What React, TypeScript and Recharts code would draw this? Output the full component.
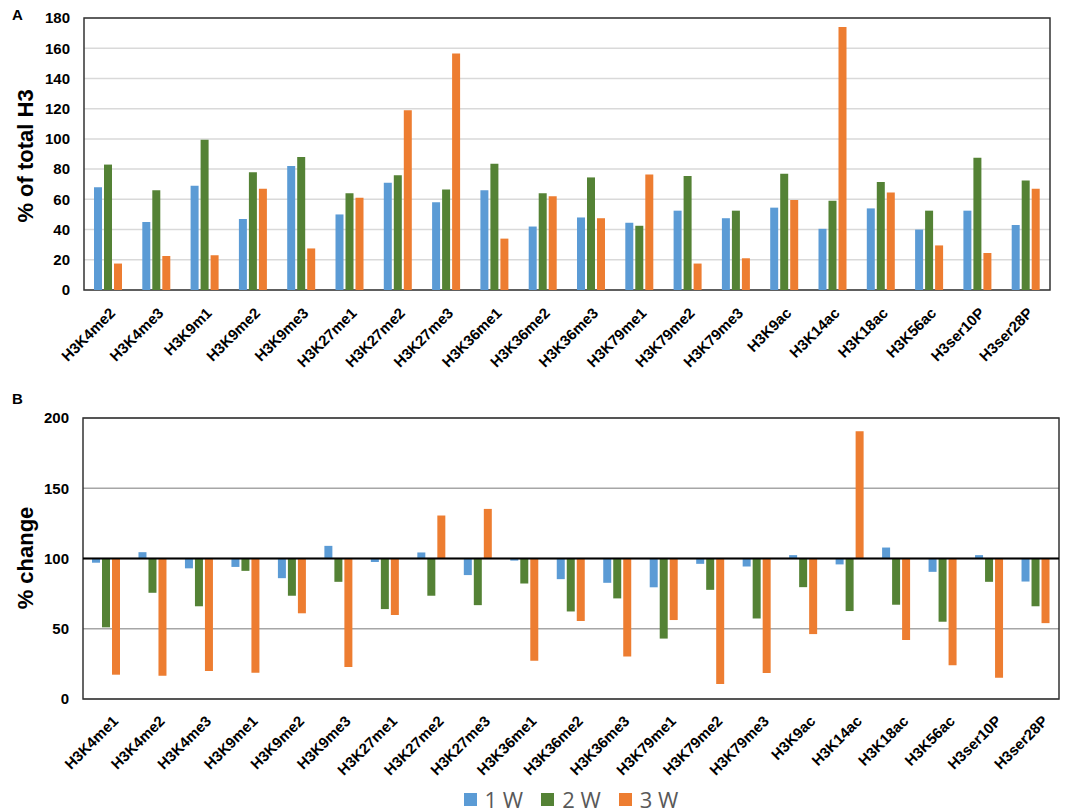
import React from 'react';
import { BarChart, Bar, XAxis, YAxis, CartesianGrid, ReferenceArea, ReferenceLine, Legend } from 'recharts';

// Panel A: % of total H3
const catsA = ['H3K4me2', 'H3K4me3', 'H3K9m1', 'H3K9me2', 'H3K9me3', 'H3K27me1', 'H3K27me2', 'H3K27me3', 'H3K36me1', 'H3K36me2',
  'H3K36me3', 'H3K79me1', 'H3K79me2', 'H3K79me3', 'H3K9ac', 'H3K14ac', 'H3K18ac', 'H3K56ac', 'H3ser10P', 'H3ser28P'];
const w1A = [68, 45, 69, 47, 82, 50, 71, 58, 66, 42, 48, 44.5, 52.5, 47.5, 54.5, 40.5, 54, 40, 52.5, 43];
const w2A = [83, 66, 99.5, 78, 88, 64, 76, 66.5, 83.5, 64, 74.5, 42.5, 75.5, 52.5, 77, 59, 71.5, 52.5, 87.5, 72.5];
const w3A = [17.5, 22.5, 23, 67, 27.5, 61, 119, 156.5, 34, 62, 47.5, 76.5, 17.5, 21, 59.5, 174, 64.5, 29.5, 24.5, 67];
const ticksA = [0, 20, 40, 60, 80, 100, 120, 140, 160, 180];

// Panel B: % change (bars start at 100)
const catsB = ['H3K4me1', 'H3K4me2', 'H3K4me3', 'H3K9me1', 'H3K9me2', 'H3K9me3', 'H3K27me1', 'H3K27me2', 'H3K27me3', 'H3K36me1',
  'H3K36me2', 'H3K36me3', 'H3K79me1', 'H3K79me2', 'H3K79me3', 'H3K9ac', 'H3K14ac', 'H3K18ac', 'H3K56ac', 'H3ser10P', 'H3ser28P'];
const w1B = [97, 104.5, 93, 94, 86, 109, 97.5, 104.3, 88.2, 98.5, 85.3, 82.7, 79.5, 96.2, 94.3, 102.4, 95.8, 107.8, 90.5, 102.4, 83.6];
const w2B = [51, 75.6, 66, 91.2, 73.5, 83.4, 64, 73.5, 66.8, 82.2, 62.3, 71.6, 43, 77.7, 57.3, 79.6, 62.6, 67.1, 55, 83.4, 66];
const w3B = [17.3, 16.6, 20, 18.7, 61, 22.7, 59.8, 130.6, 135.3, 27.3, 55.5, 30.2, 56.2, 10.7, 18.5, 46.2, 190.5, 42, 24, 15.2, 54];
const ticksB = [0, 50, 100, 150, 200];
const baseB = 100;

const seriesNames = ['1 W', '2 W', '3 W'];
const colors = ['#5B9BD5', '#548235', '#ED7D31'];

const dataA = catsA.map((c, i) => ({ name: c, w1: w1A[i], w2: w2A[i], w3: w3A[i] }));
const dataB = catsB.map((c, i) => ({ name: c, w1: w1B[i], w2: w2B[i], w3: w3B[i] }));

const font = '"Liberation Sans", Arial, sans-serif';

// bars in panel B grow up or down from the 100 line
const range = (key: string) => (d: any) => [Math.min(baseB, d[key]), Math.max(baseB, d[key])];

const RotTick = ({ x, y, payload, dx, dy }: any) => (
  <g transform={`translate(${x + dx},${y + dy})`}>
    <g transform="rotate(-45)">
      <text textAnchor="end" fontSize={15} fontWeight="bold" fill="#000" fontFamily={font}>{payload.value}</text>
    </g>
  </g>
);

const LegendBox = () => (
  <div style={{ display: 'flex', justifyContent: 'center', alignItems: 'center', height: 26, fontFamily: '"Open Sans", sans-serif', fontSize: 22, color: '#595959' }}>
    {seriesNames.map((n, i) => (
      <div key={n} style={{ display: 'flex', alignItems: 'center', margin: '0 9px' }}>
        <span style={{ width: 13, height: 13, background: colors[i], display: 'inline-block', marginRight: 8 }} />
        <span>{n}</span>
      </div>
    ))}
  </div>
);

export default function App() {
  return (
    <div style={{ position: 'absolute', left: 0, top: 0, width: 1084, height: 812, background: '#fff', fontFamily: font }}>
      <div style={{ position: 'absolute', left: 12, top: 6, fontWeight: 'bold', fontSize: 15 }}>A</div>
      <div style={{ position: 'absolute', left: 12, top: 390, fontWeight: 'bold', fontSize: 15 }}>B</div>

      <div style={{ position: 'absolute', left: 0, top: 0 }}>
        <BarChart width={1084} height={400} data={dataA} margin={{ top: 18, right: 34, left: 0, bottom: 0 }} barSize={8} barGap={2}>
          <CartesianGrid horizontal vertical={false} stroke="#d9d9d9" strokeWidth={1.5} />
          <XAxis dataKey="name" interval={0} height={110} tickLine={false} axisLine={false}
            tick={(p: any) => <RotTick {...p} dx={8} dy={16} />} />
          <YAxis width={84} domain={[0, 180]} ticks={ticksA} tickLine={false} axisLine={false}
            tick={{ fontSize: 15, fontWeight: 'bold', fill: '#000', fontFamily: font }} tickMargin={8}
            label={() => (
              <text x={27} y={156} transform="rotate(-90 27 156)" textAnchor="middle" dominantBaseline="middle"
                fontSize={22} fontWeight="bold" fill="#000" fontFamily={font}>% of total H3</text>
            )} />
          <ReferenceArea y1={0} y2={180} fill="none" stroke="#333" strokeWidth={1.5} ifOverflow="visible" />
          <Bar dataKey="w1" name={seriesNames[0]} fill={colors[0]} isAnimationActive={false} />
          <Bar dataKey="w2" name={seriesNames[1]} fill={colors[1]} isAnimationActive={false} />
          <Bar dataKey="w3" name={seriesNames[2]} fill={colors[2]} isAnimationActive={false} />
        </BarChart>
      </div>

      <div style={{ position: 'absolute', left: 0, top: 400 }}>
        <BarChart width={1084} height={412} data={dataB} margin={{ top: 18, right: 25, left: 0, bottom: 0 }} barSize={8} barGap={2}>
          <CartesianGrid horizontal vertical={false} stroke="#a6a6a6" strokeWidth={1.5} />
          <XAxis dataKey="name" interval={0} height={87} tickLine={false} axisLine={false}
            tick={(p: any) => <RotTick {...p} dx={13} dy={15} />} />
          <YAxis width={83} domain={[0, 200]} ticks={ticksB} tickLine={false} axisLine={false}
            tick={{ fontSize: 15, fontWeight: 'bold', fill: '#000', fontFamily: font }} tickMargin={8}
            label={() => (
              <text x={27} y={158} transform="rotate(-90 27 158)" textAnchor="middle" dominantBaseline="middle"
                fontSize={22} fontWeight="bold" fill="#000" fontFamily={font}>% change</text>
            )} />
          <ReferenceArea y1={0} y2={200} fill="none" stroke="#333" strokeWidth={1.5} ifOverflow="visible" />
          <Bar dataKey={range('w1')} name={seriesNames[0]} fill={colors[0]} isAnimationActive={false} />
          <Bar dataKey={range('w2')} name={seriesNames[1]} fill={colors[1]} isAnimationActive={false} />
          <Bar dataKey={range('w3')} name={seriesNames[2]} fill={colors[2]} isAnimationActive={false} />
          <ReferenceLine y={baseB} stroke="#000" strokeWidth={2} />
          <Legend verticalAlign="bottom" content={() => <LegendBox />} wrapperStyle={{ left: 83, width: 976 }} />
        </BarChart>
      </div>
    </div>
  );
}
